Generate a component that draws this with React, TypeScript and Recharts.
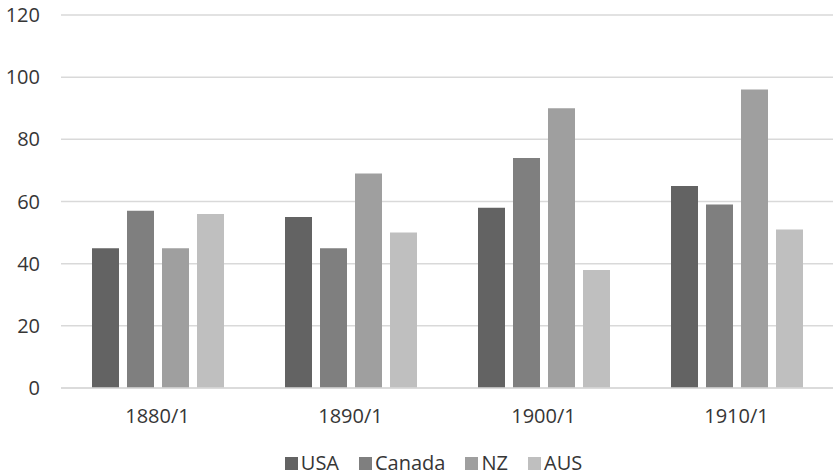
import { Bar, BarChart, CartesianGrid, Legend, XAxis, YAxis } from "recharts";

const periods = ["1880/1", "1890/1", "1900/1", "1910/1"];
const usa = [45, 55, 58, 65];
const canada = [57, 45, 74, 59];
const nz = [45, 69, 90, 96];
const aus = [56, 50, 38, 51];
const yTicks = [0, 20, 40, 60, 80, 100, 120];

const seriesNames = ["USA", "Canada", "NZ", "AUS"];
const seriesColors = ["#636363", "#7f7f7f", "#9f9f9f", "#bfbfbf"];

const data = periods.map((period, i) => ({
  period,
  USA: usa[i],
  Canada: canada[i],
  NZ: nz[i],
  AUS: aus[i],
}));

const font = "'Open Sans', sans-serif";
const textColor = "#363636";

// legend kept in series order (recharts sorts by name otherwise)
function LegendRow() {
  return (
    <div
      style={{
        boxSizing: "border-box",
        height: 32,
        paddingTop: 7,
        paddingLeft: 34,
        display: "flex",
        justifyContent: "center",
        alignItems: "flex-start",
        fontFamily: font,
        fontSize: 20,
        lineHeight: "24px",
        color: textColor,
        whiteSpace: "nowrap",
      }}
    >
      {seriesNames.map((name, i) => (
        <div key={name} style={{ display: "flex", alignItems: "center", marginRight: i < seriesNames.length - 1 ? 20 : 0 }}>
          <span style={{ display: "inline-block", width: 13, height: 13, background: seriesColors[i], marginRight: 3 }} />
          <span>{name}</span>
        </div>
      ))}
    </div>
  );
}

export default function App() {
  return (
    <div style={{ position: "absolute", left: 0, top: 0, width: 833, height: 476, background: "#fff", fontFamily: font }}>
      <BarChart
        width={833}
        height={476}
        data={data}
        margin={{ top: 15, right: 0, bottom: 0, left: 0 }}
        barSize={27}
        barGap={8}
      >
        <CartesianGrid vertical={false} stroke="#d9d9d9" strokeWidth={1.5} />
        <XAxis
          dataKey="period"
          axisLine={{ stroke: "#d9d9d9", strokeWidth: 1.5 }}
          tickLine={false}
          tickSize={0}
          tickMargin={21}
          height={56}
          tick={{ fill: textColor, fontSize: 20, fontFamily: font }}
        />
        <YAxis
          domain={[0, 120]}
          ticks={yTicks}
          axisLine={false}
          tickLine={false}
          tickSize={0}
          tickMargin={21}
          width={61}
          tick={{ fill: textColor, fontSize: 20, fontFamily: font }}
        />
        <Legend verticalAlign="bottom" content={<LegendRow />} />
        {seriesNames.map((name, i) => (
          <Bar key={name} dataKey={name} fill={seriesColors[i]} isAnimationActive={false} />
        ))}
      </BarChart>
    </div>
  );
}
